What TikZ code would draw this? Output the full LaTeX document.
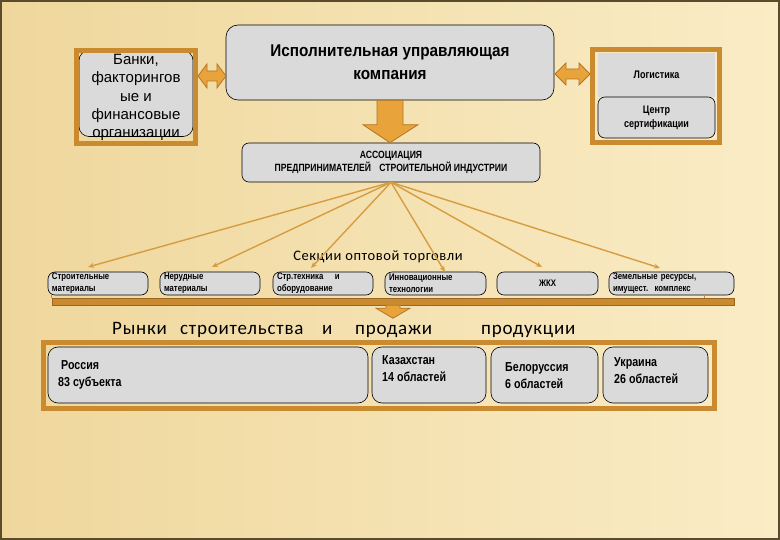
\documentclass[tikz,border=0pt]{standalone}
\usepackage{fontspec}
\setmainfont{Liberation Sans}
\newfontfamily\narrowf[FakeStretch=0.82]{Liberation Sans}
\newfontfamily\compf[FakeStretch=0.9]{Liberation Sans}
\newfontfamily\calf{Carlito}
\usetikzlibrary{arrows.meta,calc}
\definecolor{bgA}{HTML}{EFD79C}
\definecolor{bgB}{HTML}{FAECC6}
\definecolor{frameC}{HTML}{C98A30}
\definecolor{frameD}{HTML}{9C6622}
\definecolor{boxG}{HTML}{DADADA}
\definecolor{fanC}{HTML}{D69C40}
\definecolor{arrF}{HTML}{E9A33B}
\definecolor{arrD}{HTML}{B27526}
\definecolor{edgeC}{HTML}{5A4B2C}
\newcommand{\boxfont}{\fontsize{9.5}{12}\selectfont\narrowf\bfseries}
\newcommand{\mktfont}{\fontsize{13}{17}\selectfont\narrowf\bfseries}
\begin{document}
\begin{tikzpicture}[x=1pt,y=-1pt,
  gbox/.style={draw=black, line width=0.6pt, fill=boxG, rounded corners=7pt, inner sep=0pt},
  oframe/.style={draw=frameC, line width=5pt, inner sep=0pt},
  fan/.style={draw=fanC, line width=1.4pt, -{Stealth[length=6pt,width=5pt]}},
  blk/.style={fill=arrF, draw=arrD, line width=0.8pt, line join=miter},
  secbox/.style={gbox, minimum height=23, align=left, text width=#1, inner xsep=4pt, font=\boxfont},
  mktbox/.style={gbox, minimum height=56, rounded corners=10pt},
  mkttxt/.style={anchor=west, align=left, inner sep=0pt, font=\mktfont}]
% background
\useasboundingbox (0,0) rectangle (780,540);
\shade[left color=bgA, right color=bgB] (0,0) rectangle (780,540);
\draw[edgeC, line width=1.5pt] (1,1) rectangle (779,539);

% top row
\node[gbox, minimum width=114, minimum height=86, rounded corners=10pt] (banks) at (136,93.5) {};
\node[align=center, inner sep=0pt, font=\fontsize{15}{18.3}\selectfont] (bankstxt) at (136,97.5)
      {Банки,\\факторингов\\ые и\\финансовые\\организации};
\node[oframe, minimum width=119, minimum height=93] (bankframe) at (136,97) {};

\node[gbox, minimum width=328, minimum height=75, rounded corners=12pt,
      align=center, font=\fontsize{17}{23}\selectfont\compf\bfseries] (comp) at (390,62.5)
      {Исполнительная управляющая\\компания};

\node[fill=boxG, minimum width=117, minimum height=44, inner sep=0pt,
      font=\fontsize{11}{13}\selectfont\narrowf\bfseries] (logi) at (656.5,75) {Логистика};
\node[gbox, minimum width=117, minimum height=41, align=center,
      font=\fontsize{11}{14}\selectfont\narrowf\bfseries] (cert) at (656.5,117.5) {Центр\\сертификации};
\node[oframe, minimum width=127, minimum height=93] (rframe) at (656,96) {};

% block arrows
\coordinate (la1) at (198,76);
\coordinate (la2) at (226,76);
\filldraw[blk] (la1) -- ++(9,-12) -- ++(0,7) -- ++(10,0) -- ++(0,-7) -- (la2)
  -- ++(-9,12) -- ++(0,-7) -- ++(-10,0) -- ++(0,7) -- cycle;
\coordinate (ra1) at (555,74);
\coordinate (ra2) at (590,74);
\filldraw[blk] (ra1) -- ++(11,-11) -- ++(0,6) -- ++(13,0) -- ++(0,-6) -- (ra2)
  -- ++(-11,11) -- ++(0,-6) -- ++(-13,0) -- ++(0,6) -- cycle;

% association
\node[gbox, minimum width=298, minimum height=39, align=center,
      font=\fontsize{10.5}{11.5}\selectfont\narrowf\bfseries] (assoc) at (391,162.5)
      {АССОЦИАЦИЯ\\ПРЕДПРИНИМАТЕЛЕЙ\hspace{0.8em}СТРОИТЕЛЬНОЙ ИНДУСТРИИ};
\filldraw[blk] ($(comp.south)+(-13,0)$) -- ($(comp.south)+(13,0)$)
  -- ($(assoc.north)+(12,-18)$) -- ($(assoc.north)+(27,-18)$) -- ($(assoc.north)+(-1,0)$)
  -- ($(assoc.north)+(-28,-18)$) -- ($(assoc.north)+(-14,-18)$) -- cycle;

% sections
\node[font=\calf\fontsize{14.5}{17}\selectfont\addfontfeature{LetterSpace=4}] (sechead) at (378,257) {Секции оптовой торговли};

\node[secbox=92] (s1) at (98,283.5) {Строительные\\материалы};
\node[secbox=92] (s2) at (210,283.5) {Нерудные\\материалы};
\node[secbox=92] (s3) at (323,283.5) {Стр.техника\hspace{1.2em}и\\оборудование};
\node[secbox=93] (s4) at (435.5,283.5) {Инновационные\\технологии};
\node[gbox, minimum width=101, minimum height=23, font=\boxfont] (s5) at (547.5,283.5) {ЖКХ};
\node[secbox=117] (s6) at (671.5,283.5) {Земельные ресурсы,\\имущест.\ \ комплекс};

\coordinate (f1) at (88,267);
\coordinate (f2) at (212,267);
\coordinate (f3) at (311,268);
\coordinate (f4) at (445,272);
\coordinate (f5) at (542,267);
\coordinate (f6) at (660,268);
\foreach \t in {f1,f2,f3,f4,f5,f6} \draw[fan] (assoc.south) -- (\t);

% bar
\node[fill=frameC, draw=frameD, line width=0.5pt, minimum width=682, minimum height=7, inner sep=0pt] (bar) at (393,301.5) {};
\draw[frameC, line width=1.5pt] ($(s1.south west)+(4,0)$) -- ($(s1.south west |- bar.north)+(4,0)$);
\draw[frameC, line width=1.5pt] ($(s6.south)+(33,0)$) -- ($(s6.south |- bar.north)+(33,0)$);
\filldraw[blk] ($(bar.south)+(-7,0)$) -- ($(bar.south)+(7,0)$) -- ($(bar.south)+(7,3)$)
  -- ($(bar.south)+(17,3)$) -- ($(bar.south)+(0,13)$) -- ($(bar.south)+(-17,3)$)
  -- ($(bar.south)+(-7,3)$) -- cycle;

% markets heading
\begin{scope}[every node/.style={font=\calf\fontsize{19}{22}\selectfont\addfontfeature{LetterSpace=4}, anchor=base west, inner sep=0pt}]
\node (w1) at (112,335) {Рынки};
\node (w2) at (180,335) {строительства};
\node (w3) at (322,335) {и};
\node (w4) at (355,335) {продажи};
\node (w5) at (481,335) {продукции};
\end{scope}

% markets
\node[mktbox, minimum width=320] (ru) at (208,375) {};
\node[mktbox, minimum width=114] (kz) at (429,375) {};
\node[mktbox, minimum width=107] (by) at (544.5,375) {};
\node[mktbox, minimum width=105] (ua) at (655.5,375) {};
\node[mkttxt] (rut) at (58,374.5) {\hspace{3pt}Россия\\83 субъекта};
\node[mkttxt] (kzt) at (382,369) {Казахстан\\14 областей};
\node[mkttxt] (byt) at (505,375.5) {Белоруссия\\6 областей};
\node[mkttxt] (uat) at (614,370.5) {Украина\\26 областей};
\node[oframe, minimum width=671, minimum height=66] (mframe) at (379,375.5) {};
\end{tikzpicture}
\end{document}
